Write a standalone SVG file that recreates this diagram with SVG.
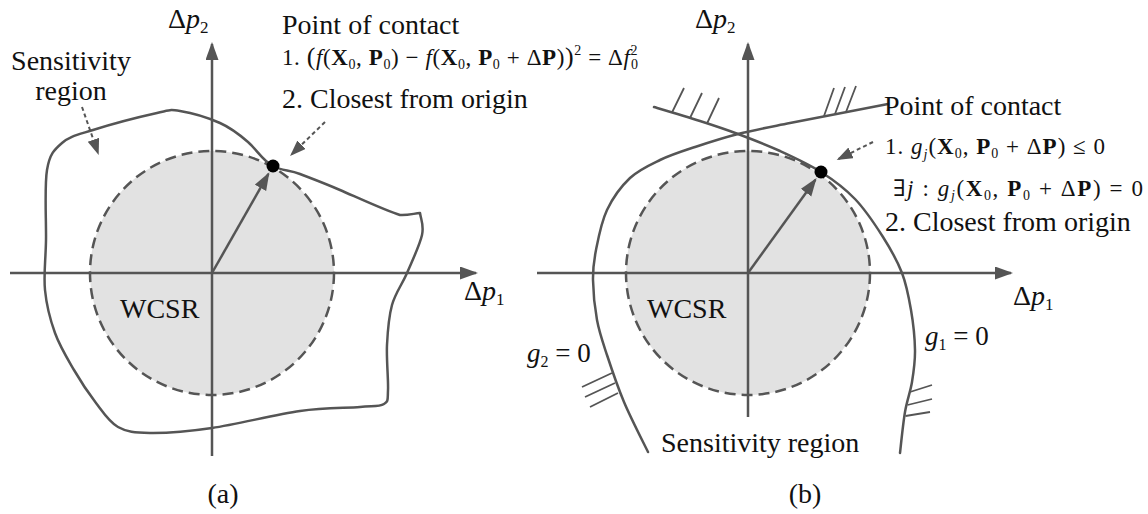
<svg xmlns="http://www.w3.org/2000/svg" width="1148" height="514" viewBox="0 0 1148 514">
<defs>
<style>
.ax{stroke:#555;stroke-width:2.5;fill:none}
.cv{stroke:#555;stroke-width:2.5;fill:none;stroke-linejoin:round;stroke-linecap:round}
.wc{fill:#e2e2e2;stroke:none}
.wcd{fill:none;stroke:#555;stroke-width:2.5;stroke-dasharray:11 6}
.da{stroke:#555;stroke-width:2;fill:none;stroke-dasharray:4 3}
.ht{stroke:#555;stroke-width:1.8;fill:none}
text{font-family:"Liberation Serif","DejaVu Serif",serif;fill:#111}
.t{font-size:28px}
.m{font-size:23px}
.it{font-style:italic}
.bd{font-weight:bold}
</style>
<marker id="ah" markerUnits="userSpaceOnUse" markerWidth="20" markerHeight="14" refX="16" refY="6.5" orient="auto" viewBox="0 0 20 14"><path d="M0,0 L18,6.5 L0,13 z" fill="#555"/></marker>
<marker id="ahd" markerUnits="userSpaceOnUse" markerWidth="18" markerHeight="13" refX="14" refY="6" orient="auto" viewBox="0 0 18 13"><path d="M0,0 L16,6 L0,12 z" fill="#555"/></marker>
</defs>

<g id="panel-a">
  <g id="a-wcsr"><circle class="wc" cx="212" cy="273" r="122"/></g>
  <g id="a-axes">
    <path class="ax" d="M10,273 H476" marker-end="url(#ah)"/>
    <path class="ax" d="M212,456 V44" marker-end="url(#ah)"/>
  </g>
  <circle class="wcd" cx="212" cy="273" r="122"/>
  <g id="a-region">
    <path class="cv" d="M47,170 C49.7,153.8 54.3,149.7 62,143 C69.7,136.3 77.2,135 93,130 C108.8,125 142.5,116.2 157,113 C171.5,109.8 169.5,109.3 180,111 C190.5,112.7 208.7,118 220,123 C231.3,128 239,134.2 248,142 C257,149.8 263,161 273,166 C282,171 289,169.7 300,174 C311,178.3 323.3,182.8 340,190 C356.7,197.2 386.7,211.2 400,215 C408,215.5 414,213.5 420,213 C421,220 424.2,225 422,235 C419.8,245 412,261.3 407,273 C402,284.7 395.3,293 392,305 C388.7,317 387.7,330.8 387,345 C386.3,359.2 388.5,380.2 388,390 C387.5,399.8 388.7,401.2 384,404 C379.3,406.8 374,405.8 360,407 C346,408.2 324.7,407.5 300,411 C275.3,414.5 237,424.3 212,428 C187,431.7 165.7,433.2 150,433 C134.3,432.8 127,432 118,427 C109,422 103.3,412.5 96,403 C88.7,393.5 80.8,381.7 74,370 C67.2,358.3 59.8,346.3 55,333 C50.2,319.7 46.5,305.5 45,290 C43.5,274.5 45.7,260 46,240 C46.3,220 44.3,186.2 47,170 Z"/>
  </g>
  <g id="a-connectors">
    <path class="ax" d="M212,273 L268.4,173.9" marker-end="url(#ah)"/>
    <path class="da" d="M82,107 L98,153" marker-end="url(#ahd)"/>
    <path class="da" d="M325,122 L291.5,154.5" marker-end="url(#ahd)"/>
  </g>
  <g id="a-contact"><circle cx="273" cy="166" r="6.5" fill="#000"/></g>
  <g id="a-labels">
    <text class="t" x="168" y="28">Δ<tspan class="it">p</tspan><tspan font-size="17" dy="5">2</tspan></text>
    <text class="t" x="464" y="300">Δ<tspan class="it">p</tspan><tspan font-size="17" dy="5">1</tspan></text>
    <text class="t" x="71" y="70" text-anchor="middle">Sensitivity</text>
    <text class="t" x="71" y="100" text-anchor="middle">region</text>
    <text class="t" x="120" y="318">WCSR</text>
    <text class="t" x="282" y="34">Point of contact</text>
    <text class="m" x="282" y="65" textLength="356" lengthAdjust="spacing">1. <tspan font-size="26">(</tspan><tspan class="it">f</tspan>(<tspan class="bd">X</tspan><tspan font-size="14" dy="4">0</tspan><tspan dy="-4">, </tspan><tspan class="bd">P</tspan><tspan font-size="14" dy="4">0</tspan><tspan dy="-4">) − </tspan><tspan class="it">f</tspan>(<tspan class="bd">X</tspan><tspan font-size="14" dy="4">0</tspan><tspan dy="-4">, </tspan><tspan class="bd">P</tspan><tspan font-size="14" dy="4">0</tspan><tspan dy="-4"> + Δ</tspan><tspan class="bd">P</tspan>)<tspan font-size="26">)</tspan><tspan font-size="14" dy="-10">2</tspan><tspan dy="10"> = Δ</tspan><tspan class="it">f</tspan><tspan font-size="14" dy="-10">2</tspan><tspan font-size="14" dx="-7" dy="14">0</tspan></text>
    <text class="t" x="282" y="108">2. Closest from origin</text>
    <text class="t" x="223" y="503" text-anchor="middle">(a)</text>
  </g>
</g>

<g id="panel-b">
  <g id="b-wcsr"><circle class="wc" cx="748" cy="273" r="122"/></g>
  <g id="b-axes">
    <path class="ax" d="M537,273 H1011" marker-end="url(#ah)"/>
    <path class="ax" d="M748,417 V44" marker-end="url(#ah)"/>
  </g>
  <circle class="wcd" cx="748" cy="273" r="122"/>
  <g id="b-g1">
    <path class="cv" d="M654,107 C661.7,109.3 686,116.5 700,121 C714,125.5 724.7,129 738,134 C751.3,139 766.2,144.7 780,151 C793.8,157.3 808.5,164 821,172 C833.5,180 844.7,188.2 855,199 C865.3,209.8 875.2,224.7 883,237 C890.8,249.3 897.3,260.8 902,273 C906.7,285.2 908.8,297.2 911,310 C913.2,322.8 914.8,338 915,350 C915.2,362 913.7,371.7 912,382 C910.3,392.3 907,400.2 905,412 C903,423.8 900.8,446.2 900,453"/>
    <path class="ht" d="M672,112.5 L684,88 M690,118 L702,93 M707,123.5 L719,98 M910,392 L932,385 M907.5,405 L932,399 M905.5,416 L930,412"/>
  </g>
  <g id="b-g2">
    <path class="cv" d="M888,104 C871.7,107.2 815,118 790,123 C765,128 753.8,130 738,134 C722.2,138 708,142.7 695,147 C682,151.3 670.8,154.8 660,160 C649.2,165.2 638.8,169.7 630,178 C621.2,186.3 612.7,198 607,210 C601.3,222 598.3,238.3 596,250 C593.7,261.7 592.8,268.3 593,280 C593.2,291.7 594.7,307.5 597,320 C599.3,332.5 602.5,341.3 607,355 C611.5,368.7 617.2,385.8 624,402 C630.8,418.2 644,443.7 648,452"/>
    <path class="ht" d="M824,116 L834,88 M835,114 L845,87 M846,112 L856,86 M612,373 L582,387 M615,383 L585,397 M618,393 L590,407"/>
  </g>
  <g id="b-connectors">
    <path class="ax" d="M748,273 L815.4,179.7" marker-end="url(#ah)"/>
    <path class="da" d="M873,142 L838.5,159" marker-end="url(#ahd)"/>
  </g>
  <g id="b-contact"><circle cx="821" cy="172" r="6.5" fill="#000"/></g>
  <g id="b-labels">
    <text class="t" x="695" y="28">Δ<tspan class="it">p</tspan><tspan font-size="17" dy="5">2</tspan></text>
    <text class="t" x="1013" y="305">Δ<tspan class="it">p</tspan><tspan font-size="17" dy="5">1</tspan></text>
    <text class="t" x="647" y="318">WCSR</text>
    <text class="t" x="884" y="115">Point of contact</text>
    <text class="m" x="885" y="154" textLength="220" lengthAdjust="spacing">1. <tspan class="it">g</tspan><tspan class="it" font-size="14" dy="5">j</tspan><tspan dy="-5">(</tspan><tspan class="bd">X</tspan><tspan font-size="14" dy="4">0</tspan><tspan dy="-4">, </tspan><tspan class="bd">P</tspan><tspan font-size="14" dy="4">0</tspan><tspan dy="-4"> + Δ</tspan><tspan class="bd">P</tspan>) ≤ 0</text>
    <text class="m" x="893" y="196" textLength="250" lengthAdjust="spacing">∃<tspan class="it">j</tspan> : <tspan class="it">g</tspan><tspan class="it" font-size="14" dy="4">j</tspan><tspan dy="-4">(</tspan><tspan class="bd">X</tspan><tspan font-size="14" dy="4">0</tspan><tspan dy="-4">, </tspan><tspan class="bd">P</tspan><tspan font-size="14" dy="4">0</tspan><tspan dy="-4"> + Δ</tspan><tspan class="bd">P</tspan>) = 0</text>
    <text class="t" x="885" y="231">2. Closest from origin</text>
    <text font-size="27" x="527" y="362"><tspan class="it">g</tspan><tspan font-size="16" dy="5">2</tspan><tspan dy="-5"> = 0</tspan></text>
    <text font-size="27" x="925" y="345"><tspan class="it">g</tspan><tspan font-size="16" dy="5">1</tspan><tspan dy="-5"> = 0</tspan></text>
    <text class="t" x="661" y="452">Sensitivity region</text>
    <text class="t" x="805" y="503" text-anchor="middle">(b)</text>
  </g>
</g>
</svg>
